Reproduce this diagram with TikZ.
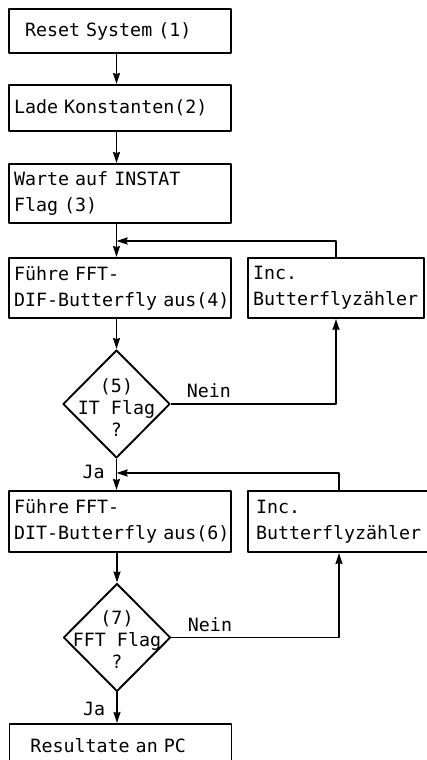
\documentclass[tikz,border=0pt]{standalone}
\usepackage{fontspec}
\setmonofont{DejaVu Sans Mono}
\usetikzlibrary{arrows.meta,shapes.geometric}
\hyphenpenalty=10000

\tikzset{
  box/.style={draw,line width=1.9pt,minimum width=222pt,text width=212pt,
    inner xsep=5pt,align=left,font=\ttfamily\fontsize{18.3}{26}\selectfont},
  incbox/.style={box,minimum width=176pt,text width=166pt},
  dia/.style={draw,diamond,line width=1.9pt,inner sep=0pt,
    minimum width=107pt,minimum height=108pt},
  diatext/.style={align=center,inner sep=0pt,
    font=\ttfamily\fontsize{18.3}{22}\selectfont},
  lbl/.style={font=\ttfamily\fontsize{18.3}{22}\selectfont,inner sep=5pt},
}

\begin{document}
\begin{tikzpicture}[x=1pt,y=-1pt,>={Stealth[length=11pt,width=7pt,inset=1pt]},
    line width=1.9pt,line join=round]
\useasboundingbox (0,0) rectangle (427,760);
\clip (0,0) rectangle (427,760);

%% ---------------- set-up ----------------
\node[box,minimum height=44pt] (reset) at (120,31) {\hspace*{11pt}Reset System (1)};
\node[box,minimum height=46pt] (konst) at (120,108) {Lade Konstanten(2)};
\node[box,minimum height=59pt] (instat) at (120,193.5) {Warte auf INSTAT\\Flag (3)};

%% ---------------- DIF loop ----------------
\node[box,minimum height=60pt] (dif) at (120,288) {F\"uhre FFT-\\DIF-Butterfly~aus(4)};
\node[incbox,minimum height=60pt] (incdif) at (336,288) {Inc.\\Butterflyz\"ahler};
\node[dia] (itflag) at (116.5,404) {};
\node[diatext] (itflagtxt) at (116.5,408) {(5)\\IT Flag\\?};
\coordinate (mdif) at (116.5,241);

%% ---------------- DIT loop ----------------
\node[box,minimum height=61pt] (dit) at (120,521.5) {F\"uhre FFT-\\DIT-Butterfly~aus(6)};
\node[incbox,minimum width=182pt,minimum height=61pt] (incdit) at (339,521.5) {Inc.\\Butterflyz\"ahler};
\node[dia] (fftflag) at (117,637.5) {};
\node[diatext] (fftflagtxt) at (117,640) {(7)\\FFT Flag\\?};
\coordinate (mdit) at (116.5,473);

\node[box,minimum height=44pt] (result) at (120.5,746) {\hspace*{16pt}Resultate an PC};

%% flow
\draw[->] (reset.south -| itflag) -- (konst.north -| itflag);
\draw[->] (konst.south -| itflag) -- (instat.north -| itflag);
\draw[->] (instat.south -| itflag) -- (dif.north -| itflag);
\draw[->] (incdif.north) |- (mdif);
\draw[->] (dif.south -| itflag) -- (itflag.north);
\draw[->] (itflag.east) -- node[lbl,above,pos=0.23] {Nein} (itflag.east -| incdif.south)
  -- (incdif.south);
\draw[->] (itflag.south) -- node[lbl,left=6pt,pos=0.42] {Ja} (dit.north -| itflag);
\draw[->] (incdit.north) |- (mdit);
\draw[->] (dit.south -| fftflag) -- (fftflag.north);
\draw[->] (fftflag.east) -- node[lbl,above,pos=0.23] {Nein} (fftflag.east -| incdit.south)
  -- (incdit.south);
\draw[->] (fftflag.south) -- node[lbl,left=6pt,pos=0.55] {Ja} (result.north -| fftflag);

\end{tikzpicture}
\end{document}
